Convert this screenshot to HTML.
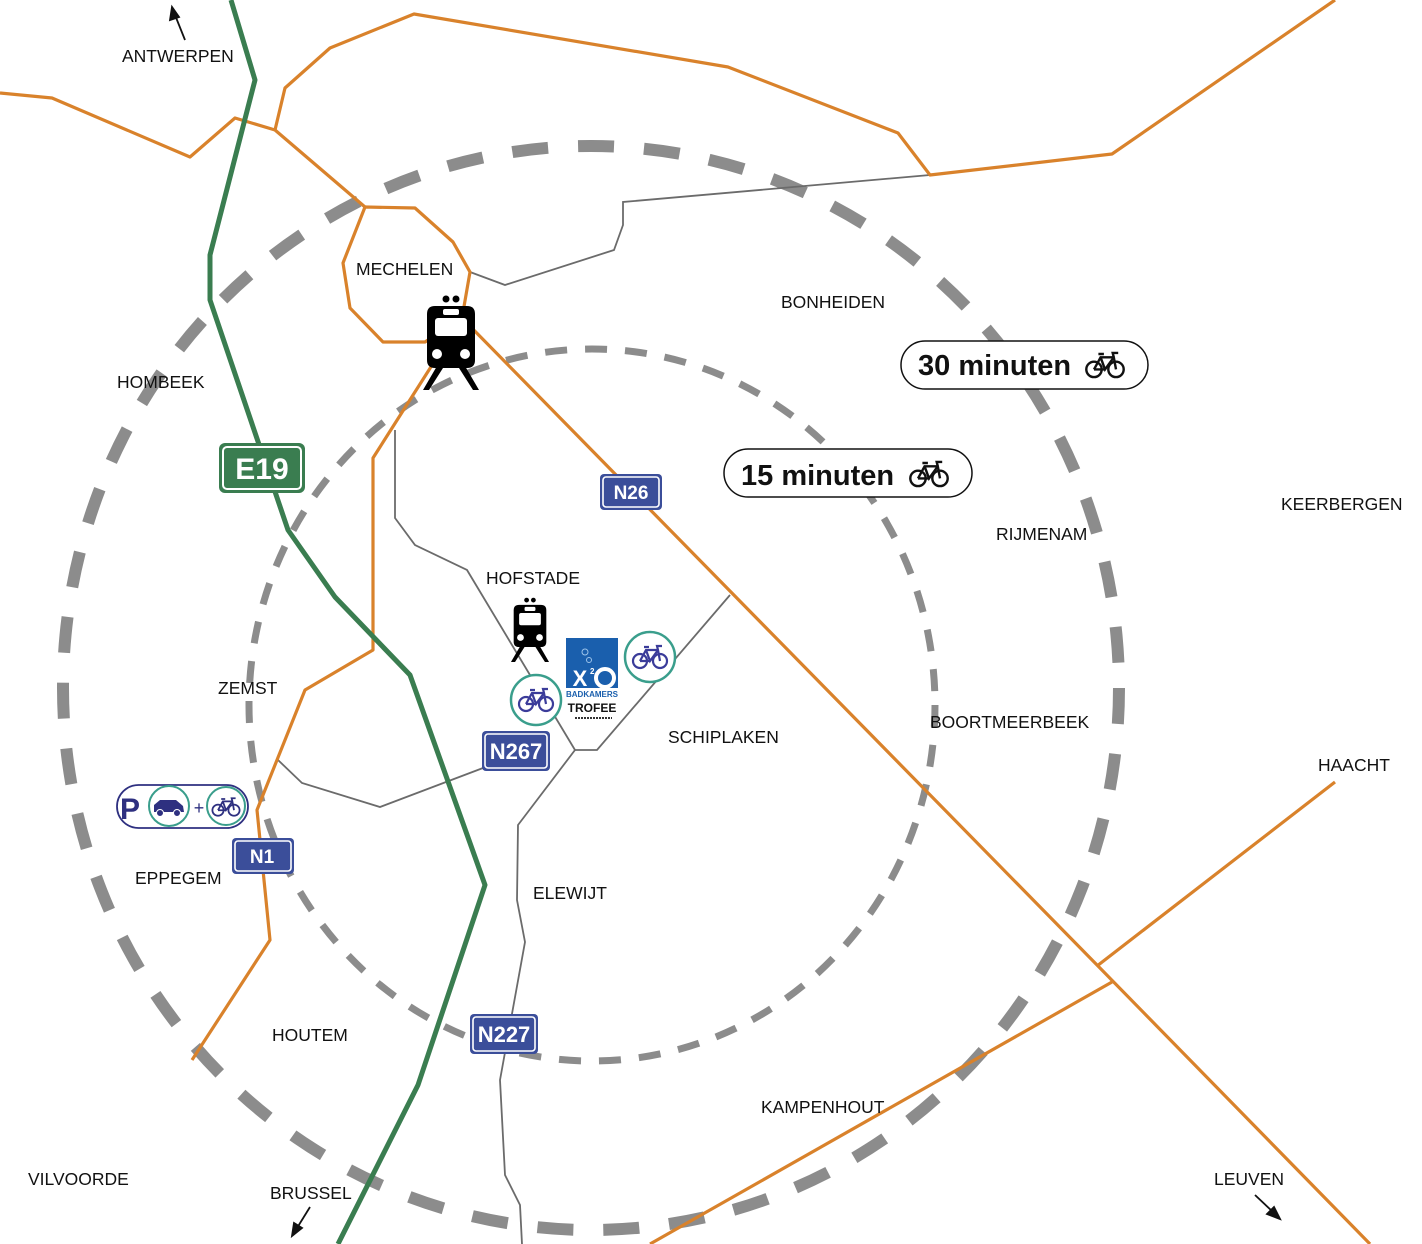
<!DOCTYPE html>
<html><head><meta charset="utf-8"><style>
html,body{margin:0;padding:0;background:#fff}
svg{display:block}
text{font-family:"Liberation Sans",sans-serif}
.lbl{font-size:17.5px;fill:#111}
</style></head><body>
<svg width="1422" height="1244" viewBox="0 0 1422 1244" xmlns="http://www.w3.org/2000/svg">
<defs>
<g id="bike" fill="none" stroke-width="2.2">
<circle cx="-10" cy="4" r="7"/><circle cx="10" cy="4" r="7"/>
<path d="M-10 4 L-4 -7 L8 -7 L10 4 M-4 -7 L0 4 L8 -7 M0 4 L-10 4 M-6 -10 L-1 -10 M8 -7 L7 -11 L12 -11"/>
</g>
<g id="train">
<path d="M-24 -26 Q-24 -34 -16 -34 L16 -34 Q24 -34 24 -26 L24 20 Q24 28 16 28 L-16 28 Q-24 28 -24 20 Z" fill="#000"/>
<rect x="-16" y="-22" width="32" height="18" rx="3" fill="#fff"/>
<rect x="-8" y="-31" width="16" height="6" rx="2" fill="#fff"/>
<circle cx="-14" cy="14" r="5" fill="#fff"/><circle cx="14" cy="14" r="5" fill="#fff"/>
<circle cx="-5" cy="-41" r="3.5" fill="#000"/><circle cx="5" cy="-41" r="3.5" fill="#000"/>
<path d="M-14 26 L-28 50 L-22 50 L-8 28 Z M14 26 L28 50 L22 50 L8 28 Z" fill="#000"/>
</g>
</defs>

<!-- dashed circles -->
<ellipse cx="591" cy="688" rx="528" ry="542" fill="none" stroke="#8c8c8c" stroke-width="12" stroke-dasharray="36 30"/>
<ellipse cx="592" cy="705" rx="343" ry="356" fill="none" stroke="#8c8c8c" stroke-width="7" stroke-dasharray="22 18"/>

<!-- gray roads -->
<g fill="none" stroke="#6b6b6b" stroke-width="1.8">
<path d="M470 272 L505 285 L614 250 L623 225 L623 202 L930 175"/>
<path d="M395 430 L395 518 L415 545 L467 570 L575 750"/>
<path d="M730 595 L597 750 L575 750"/>
<path d="M575 750 L518 825 L517 900 L525 942 L500 1080 L505 1175 L520 1205 L522 1244"/>
<path d="M278 760 L302 783 L380 807 L483 768"/>
</g>

<!-- orange roads -->
<g fill="none" stroke="#d9822b" stroke-width="3.2" stroke-linejoin="round">
<path d="M0 93 L52 98 L190 157 L235 118 L275 130 L365 207"/>
<path d="M275 130 L285 88 L330 48 L414 14 L728 67 L898 133 L930 175 L1112 154 L1335 0"/>
<path d="M365 207 L415 208 L453 242 L470 272 L462 318 L425 342 L383 342 L350 308 L343 263 Z"/>
<path d="M462 318 L373 458 L373 650 L305 690 L257 810 L270 940 L192 1060"/>
<path d="M462 318 L1098 966 L1370 1244"/>
<path d="M1335 782 L1097 966"/>
<path d="M650 1244 L1112 982"/>
</g>

<!-- E19 -->
<path d="M231 0 L255 80 L210 255 L210 300 L288 530 L335 597 L410 675 L485 885 L418 1085 L338 1244" fill="none" stroke="#3a7d50" stroke-width="5" stroke-linejoin="round"/>

<!-- signs -->
<g font-weight="bold" fill="#fff" text-anchor="middle">
<rect x="219" y="443" width="86" height="50" rx="6" fill="#3a7d50"/>
<rect x="223" y="447" width="78" height="42" rx="4" fill="none" stroke="#fff" stroke-width="2"/>
<text x="262" y="479" font-size="30">E19</text>
<g>
<rect x="600" y="474" width="62" height="36" rx="4" fill="#3b4e9a"/>
<rect x="603" y="477" width="56" height="30" rx="3" fill="none" stroke="#fff" stroke-width="1.6"/>
<text x="631" y="499" font-size="19">N26</text>
</g>
<g>
<rect x="482" y="731" width="68" height="40" rx="4" fill="#3b4e9a"/>
<rect x="485" y="734" width="62" height="34" rx="3" fill="none" stroke="#fff" stroke-width="1.6"/>
<text x="516" y="759" font-size="22">N267</text>
</g>
<g>
<rect x="232" y="838" width="62" height="36" rx="4" fill="#3b4e9a"/>
<rect x="235" y="841" width="56" height="30" rx="3" fill="none" stroke="#fff" stroke-width="1.6"/>
<text x="262" y="863" font-size="19">N1</text>
</g>
<g>
<rect x="470" y="1014" width="68" height="40" rx="4" fill="#3b4e9a"/>
<rect x="473" y="1017" width="62" height="34" rx="3" fill="none" stroke="#fff" stroke-width="1.6"/>
<text x="504" y="1042" font-size="22">N227</text>
</g>
</g>

<!-- pills -->
<rect x="901" y="341" width="247" height="48" rx="24" fill="#fff" stroke="#111" stroke-width="1.5"/>
<text x="918" y="375" font-size="29" font-weight="bold" fill="#111">30 minuten</text>
<g transform="translate(1105,365) scale(1.1)"><use href="#bike" stroke="#111"/></g>
<rect x="724" y="449" width="248" height="48" rx="24" fill="#fff" stroke="#111" stroke-width="1.5"/>
<text x="741" y="485" font-size="29" font-weight="bold" fill="#111">15 minuten</text>
<g transform="translate(929,474) scale(1.1)"><use href="#bike" stroke="#111"/></g>

<!-- trains -->
<use href="#train" x="451" y="340"/>
<g transform="translate(530,628) scale(0.68)"><use href="#train"/></g>

<!-- X2O logo -->
<rect x="566" y="638" width="52" height="50" fill="#1a5fad"/>
<circle cx="585" cy="652" r="3" fill="none" stroke="#9cc3ea" stroke-width="1"/>
<circle cx="589" cy="660" r="2.5" fill="none" stroke="#9cc3ea" stroke-width="1"/>
<text x="580" y="686" font-size="22" font-weight="bold" fill="#fff" text-anchor="middle">X</text>
<text x="590" y="674" font-size="8" font-weight="bold" fill="#fff">2</text>
<circle cx="605" cy="678" r="9" fill="none" stroke="#fff" stroke-width="4"/>
<text x="592" y="697" font-size="8" font-weight="bold" fill="#1a5fad" text-anchor="middle">BADKAMERS</text>
<text x="592" y="712" font-size="12" font-weight="bold" fill="#111" text-anchor="middle">TROFEE</text>
<path d="M575 718 L612 718" stroke="#333" stroke-width="2" stroke-dasharray="2 1"/>

<!-- bike circles -->
<circle cx="650" cy="657" r="25" fill="#fff" stroke="#3a9e8c" stroke-width="2.5"/>
<use href="#bike" x="650" y="657" stroke="#3b3c9a"/>
<circle cx="536" cy="700" r="25" fill="#fff" stroke="#3a9e8c" stroke-width="2.5"/>
<use href="#bike" x="536" y="700" stroke="#3b3c9a"/>

<!-- P+R -->
<rect x="117" y="785" width="131" height="43" rx="21.5" fill="#fff" stroke="#2e3080" stroke-width="1.8"/>
<text x="120" y="819" font-size="30" font-weight="bold" fill="#2e3080">P</text>
<circle cx="169" cy="806" r="20" fill="#fff" stroke="#3a9e8c" stroke-width="2"/>
<path d="M154 812 L154 805 L160 800 L176 800 L183 806 L184 812 Z" fill="#2e3080"/>
<circle cx="160" cy="813" r="3.5" fill="#2e3080" stroke="#fff"/><circle cx="177" cy="813" r="3.5" fill="#2e3080" stroke="#fff"/>
<text x="199" y="814" font-size="18" fill="#2e3080" text-anchor="middle">+</text>
<circle cx="226" cy="806" r="19" fill="#fff" stroke="#3a9e8c" stroke-width="2"/>
<g transform="translate(226,807) scale(0.8)"><use href="#bike" stroke="#2e3080"/></g>

<!-- labels -->
<g class="lbl">
<text x="122" y="62" class="lbl">ANTWERPEN</text>
<text x="356" y="275" class="lbl">MECHELEN</text>
<text x="781" y="308" class="lbl">BONHEIDEN</text>
<text x="117" y="388" class="lbl">HOMBEEK</text>
<text x="1281" y="510" class="lbl">KEERBERGEN</text>
<text x="996" y="540" class="lbl">RIJMENAM</text>
<text x="486" y="584" class="lbl">HOFSTADE</text>
<text x="218" y="694" class="lbl">ZEMST</text>
<text x="930" y="728" class="lbl">BOORTMEERBEEK</text>
<text x="668" y="743" class="lbl">SCHIPLAKEN</text>
<text x="1318" y="771" class="lbl">HAACHT</text>
<text x="135" y="884" class="lbl">EPPEGEM</text>
<text x="533" y="899" class="lbl">ELEWIJT</text>
<text x="272" y="1041" class="lbl">HOUTEM</text>
<text x="761" y="1113" class="lbl">KAMPENHOUT</text>
<text x="28" y="1185" class="lbl">VILVOORDE</text>
<text x="1214" y="1185" class="lbl">LEUVEN</text>
<text x="270" y="1199" class="lbl">BRUSSEL</text>
</g>

<!-- direction arrows -->
<g stroke="#111" stroke-width="1.8" fill="#111">
<line x1="185" y1="40" x2="175" y2="15"/>
<path d="M172 7 L170 20 L179 17 Z"/>
<line x1="310" y1="1207" x2="297" y2="1228"/>
<path d="M292 1236 L294 1223 L302 1228 Z"/>
<line x1="1255" y1="1195" x2="1273" y2="1212"/>
<path d="M1280 1219 L1267 1214 L1274 1207 Z"/>
</g>
</svg>
</body></html>
